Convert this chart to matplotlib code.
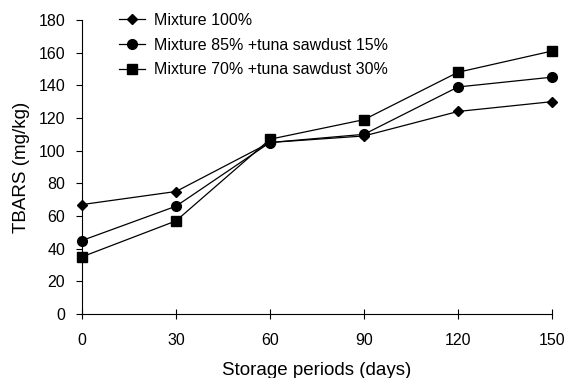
import matplotlib.pyplot as plt

plt.rcParams['font.family'] = ['Liberation Sans', 'DejaVu Sans']

days = [0, 30, 60, 90, 120, 150]
mix_100 = [67, 75, 105, 109, 124, 130]
mix_85 = [45, 66, 105, 110, 139, 145]
mix_70 = [35, 57, 107, 119, 148, 161]

fig = plt.figure(figsize=(5.66, 3.78), dpi=100)
ax = fig.add_axes([82 / 566, 1 - 314 / 378, 470 / 566, 294 / 378])

ax.plot(days, mix_100, color='black', lw=0.9, marker='D', ms=5, label='Mixture 100%')
ax.plot(days, mix_85, color='black', lw=0.9, marker='o', ms=7, label='Mixture 85% +tuna sawdust 15%')
ax.plot(days, mix_70, color='black', lw=0.9, marker='s', ms=6.5, label='Mixture 70% +tuna sawdust 30%')

ax.set_xlim(0, 150)
ax.set_ylim(0, 180)
ax.set_xticks(days)
ax.set_yticks(range(0, 181, 20))
ax.spines['top'].set_visible(False)
ax.spines['right'].set_visible(False)
ax.tick_params(axis='x', direction='inout', length=7, labelsize=11.5, pad=10)
ax.tick_params(axis='y', direction='out', length=4, labelsize=11.5, pad=8)
for ln in ax.lines:
    ln.set_clip_on(False)

ax.set_xlabel('Storage periods (days)', fontsize=13.5, labelpad=10)
ax.set_ylabel('TBARS (mg/kg)', fontsize=13.5, labelpad=6)
ax.legend(loc='upper left', bbox_to_anchor=(119 / 566, 1 - 13 / 378),
          bbox_transform=fig.transFigure, frameon=False, fontsize=11.5,
          borderpad=0, borderaxespad=0, handlelength=1.6, handletextpad=0.6,
          labelspacing=0.6)

fig.savefig('out.png', dpi=100)
